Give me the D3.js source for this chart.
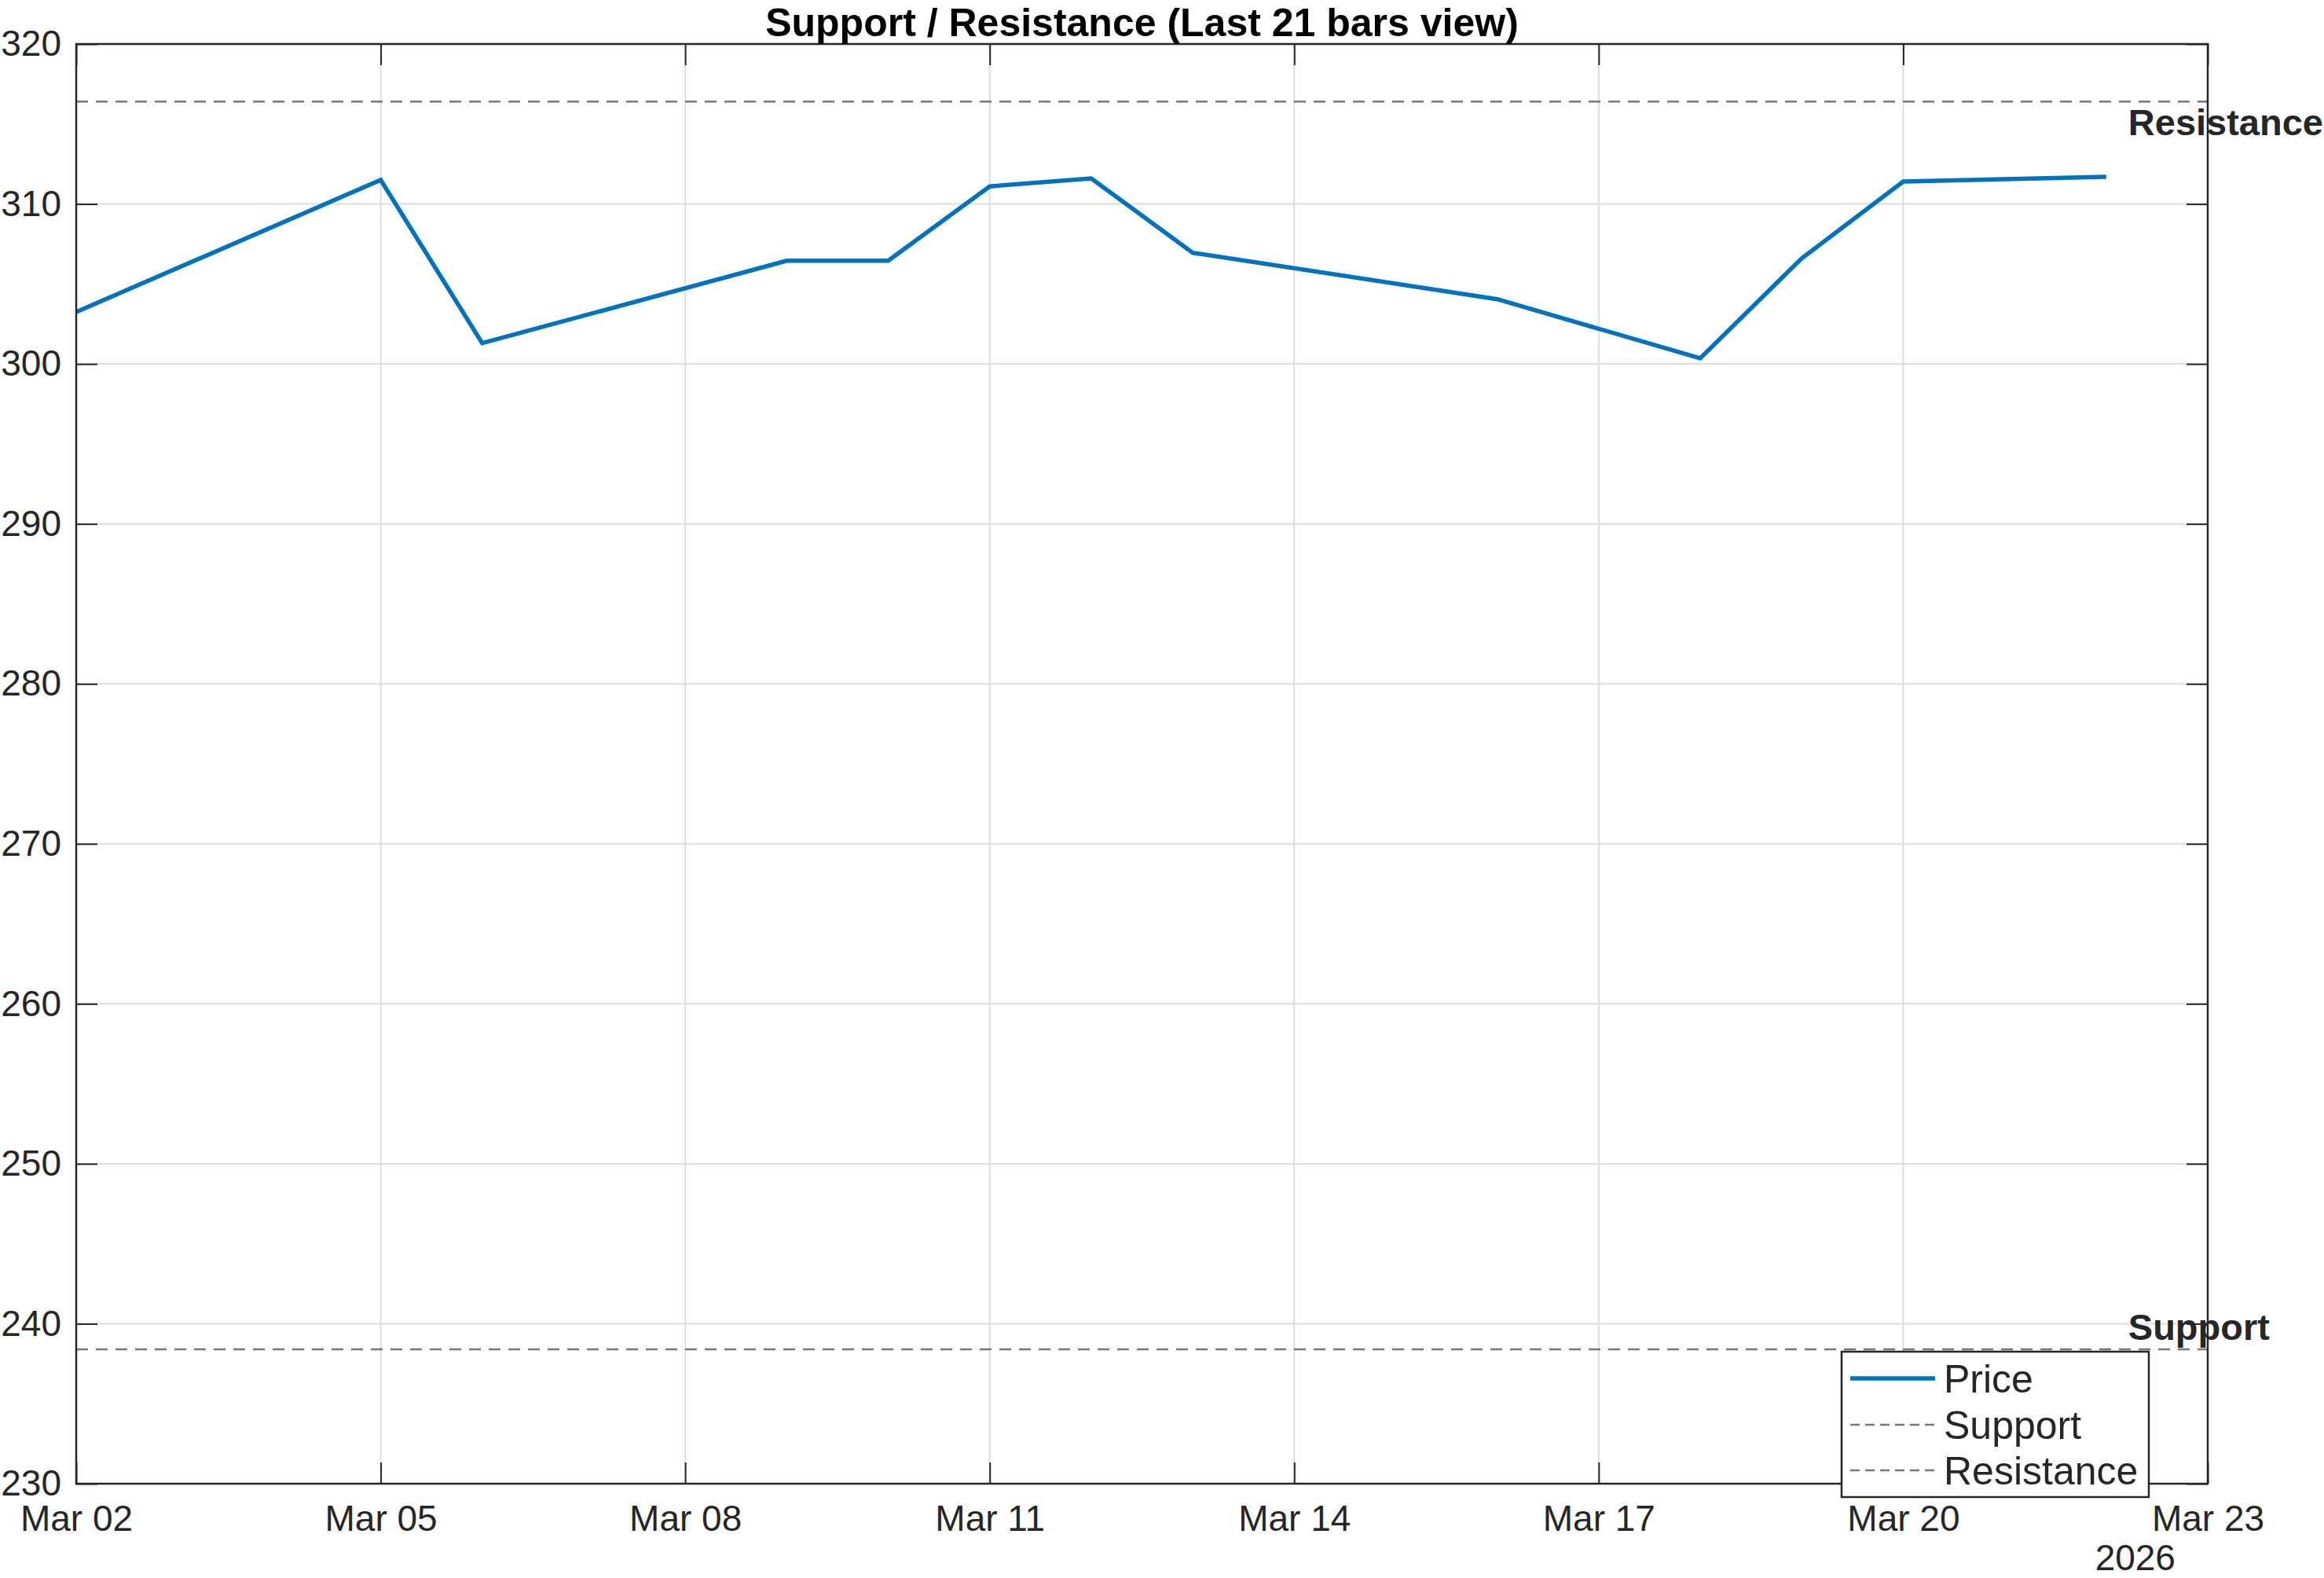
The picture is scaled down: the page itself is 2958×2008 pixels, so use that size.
<!DOCTYPE html>
<html>
<head>
<meta charset="utf-8">
<script src="https://cdn.jsdelivr.net/npm/d3@7"></script>
<style>
    html, body { margin: 0; padding: 0; background: #ffffff; }
    svg { display: block; font-family: "Liberation Sans", Arial, sans-serif; }
</style>
</head>
<body>
<div id="chartd3"></div>
<script>
// Datos
const dates = ['2026-03-02', '2026-03-05', '2026-03-06', '2026-03-09', '2026-03-10', '2026-03-11', '2026-03-12',
               '2026-03-13', '2026-03-16', '2026-03-18', '2026-03-19', '2026-03-20', '2026-03-22'];
const prices = [303.25, 311.5, 301.3, 306.45, 306.45, 311.1, 311.6, 306.95, 304.05, 300.35, 306.6, 311.4, 311.7];
const supportLevel = 238.4;
const resistanceLevel = 316.4;

// Ticks de los ejes
const xTickDates = ['2026-03-02', '2026-03-05', '2026-03-08', '2026-03-11', '2026-03-14', '2026-03-17', '2026-03-20', '2026-03-23'];
const yTicks = [230, 240, 250, 260, 270, 280, 290, 300, 310, 320];
const xDomain = ['2026-03-02', '2026-03-23'];
const yDomain = [230, 320];
const legendLabels = ['Price', 'Support', 'Resistance'];

const parseDate = d3.utcParse('%Y-%m-%d');
const formatTick = d3.utcFormat('%b %d');

const data = dates.map((d, i) => ({ date: parseDate(d), price: prices[i] }));

// Configuracion del container
const W = 2958, H = 2008;
const margin = { top: 56, right: 148, bottom: 120, left: 97 };
const width = W - margin.left - margin.right;
const height = H - margin.top - margin.bottom;

const axisColor = '#262626';
const gridColor = '#dedede';
const lineColor = '#0072bd';
const levelColor = '#777777';
const tickLen = 27;

const root = d3.select('#chartd3').append('svg')
    .attr('width', W).attr('height', H);

const svg = root.append('g')
    .attr('transform', `translate(${margin.left}, ${margin.top})`);

// Escalas
const xScale = d3.scaleUtc().domain(xDomain.map(parseDate)).range([0, width]);
const yScale = d3.scaleLinear().domain(yDomain).range([height, 0]);

// Grid
const gridGroup = svg.append('g').attr('class', 'grid');
gridGroup.selectAll('.vgrid').data(xTickDates.map(parseDate)).join('line')
    .attr('x1', d => xScale(d)).attr('x2', d => xScale(d))
    .attr('y1', 0).attr('y2', height)
    .attr('stroke', gridColor).attr('stroke-width', 2);
gridGroup.selectAll('.hgrid').data(yTicks).join('line')
    .attr('x1', 0).attr('x2', width)
    .attr('y1', d => yScale(d)).attr('y2', d => yScale(d))
    .attr('stroke', gridColor).attr('stroke-width', 2);

// Lineas de soporte y resistencia
const levels = [supportLevel, resistanceLevel];
svg.selectAll('.level').data(levels).join('line')
    .attr('class', 'level')
    .attr('x1', 0).attr('x2', width)
    .attr('y1', d => yScale(d)).attr('y2', d => yScale(d))
    .attr('stroke', levelColor).attr('stroke-width', 2.5)
    .attr('stroke-dasharray', '15 10');

// Linea de precio
const line = d3.line().x(d => xScale(d.date)).y(d => yScale(d.price));
svg.append('path').datum(data)
    .attr('d', line)
    .attr('fill', 'none')
    .attr('stroke', lineColor)
    .attr('stroke-width', 5.5)
    .attr('stroke-linejoin', 'miter');

// Ejes con ticks hacia adentro en los cuatro lados
const xTicks = xTickDates.map(parseDate);
const axesGroup = svg.append('g').attr('class', 'axes');

const xAxisBottom = d3.axisBottom(xScale).tickValues(xTicks).tickFormat(formatTick)
    .tickSizeInner(-tickLen).tickSizeOuter(0).tickPadding(27);
const xAxisTop = d3.axisTop(xScale).tickValues(xTicks).tickFormat('')
    .tickSizeInner(-tickLen).tickSizeOuter(0);
const yAxisLeft = d3.axisLeft(yScale).tickValues(yTicks)
    .tickSizeInner(-tickLen).tickSizeOuter(0).tickPadding(19);
const yAxisRight = d3.axisRight(yScale).tickValues(yTicks).tickFormat('')
    .tickSizeInner(-tickLen).tickSizeOuter(0);

axesGroup.append('g').attr('transform', `translate(0, ${height})`).call(xAxisBottom);
axesGroup.append('g').call(xAxisTop);
axesGroup.append('g').call(yAxisLeft);
axesGroup.append('g').attr('transform', `translate(${width}, 0)`).call(yAxisRight);

axesGroup.selectAll('.domain').remove();
axesGroup.selectAll('.tick line').attr('stroke', axisColor).attr('stroke-width', 2);
axesGroup.selectAll('.tick text')
    .attr('fill', axisColor)
    .style('font-size', '46px')
    .style('font-family', '"Liberation Sans", Arial, sans-serif');

// Caja del area del grafico
svg.append('rect')
    .attr('x', 0).attr('y', 0).attr('width', width).attr('height', height)
    .attr('fill', 'none').attr('stroke', axisColor).attr('stroke-width', 2.5);

// Año debajo del ultimo tick
svg.append('text')
    .attr('x', xScale(parseDate('2026-03-22')) + 37)
    .attr('y', height + 110)
    .attr('text-anchor', 'middle')
    .attr('fill', axisColor)
    .style('font-size', '46px')
    .text('2026');

// Titulo
svg.append('text')
    .attr('x', width / 2).attr('y', -10)
    .attr('text-anchor', 'middle')
    .attr('fill', '#000000')
    .style('font-size', '50px').style('font-weight', 'bold')
    .text('Support / Resistance (Last 21 bars view)');

// Etiquetas de niveles
const lastDate = data[data.length - 1].date;
svg.append('text')
    .attr('x', xScale(lastDate) + 28).attr('y', yScale(resistanceLevel) + 43)
    .attr('fill', axisColor)
    .style('font-size', '47px').style('font-weight', 'bold')
    .text('Resistance');
svg.append('text')
    .attr('x', xScale(lastDate) + 28).attr('y', yScale(supportLevel) - 12)
    .attr('fill', axisColor)
    .style('font-size', '47px').style('font-weight', 'bold')
    .text('Support');

// Leyenda
const legendGroup = root.append('g').attr('class', 'legend')
    .attr('transform', 'translate(2344, 1720)');
legendGroup.append('rect')
    .attr('x', 0).attr('y', 0).attr('width', 391).attr('height', 185)
    .attr('fill', '#ffffff').attr('stroke', axisColor).attr('stroke-width', 2.5);

const rowY = [34, 93, 151];
legendLabels.forEach((label, i) => {
    const g = legendGroup.append('g').attr('transform', `translate(0, ${rowY[i]})`);
    g.append('line')
        .attr('x1', 11).attr('x2', 119).attr('y1', 0).attr('y2', 0)
        .attr('stroke', i === 0 ? lineColor : levelColor)
        .attr('stroke-width', i === 0 ? 5.5 : 2.5)
        .attr('stroke-dasharray', i === 0 ? null : '12 7');
    g.append('text')
        .attr('x', 130).attr('y', 0).attr('dy', '0.35em')
        .attr('fill', axisColor)
        .style('font-size', '50px')
        .text(label);
});
</script>
</body>
</html>
